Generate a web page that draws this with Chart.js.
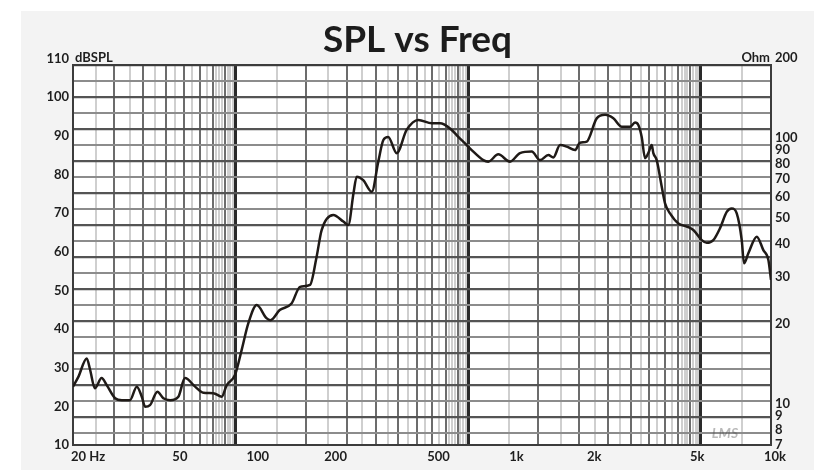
<!DOCTYPE html>
<html>
<head>
<meta charset="utf-8">
<script src="https://cdn.jsdelivr.net/npm/chart.js@4.4.1/dist/chart.umd.min.js"></script>
<style>
  html, body { margin: 0; padding: 0; background: #fff; }
  #card { position: absolute; left: 21px; top: 11px; width: 793px; height: 459px; background: #f3f3f3; }
</style>
</head>
<body>
<div id="card"><canvas id="splChart" width="793" height="459"></canvas></div>
<script>
// SPL curve (Hz, dB)
const freqs = [20, 21, 22.6, 23.3, 24.3, 25.8, 27, 29.1, 30.9, 33.2,
  35.3, 36.9, 38, 39.7, 42.4, 44.7, 47.5, 51.1, 54.2, 59.3,
  63.8, 69.8, 75.2, 78.6, 84.6, 89.8, 95.3, 102.7, 112, 116,
  126, 140, 151, 165, 175, 183, 203, 222, 232, 243,
  250, 265, 286, 303, 317, 331, 357, 390, 433, 488,
  525, 574, 618, 656, 696, 772, 807, 882, 979, 1070,
  1188, 1279, 1377, 1440, 1529, 1622, 1747, 1826, 1939, 2119,
  2282, 2457, 2648, 2850, 2980, 3069, 3163, 3258, 3354, 3458,
  3508, 3615, 3780, 3893, 4070, 4382, 4723, 5008, 5397, 5642,
  5985, 6353, 6742, 7050, 7371, 7706, 7865, 8174, 8810, 9342,
  9766, 10000];
const spl = [25.1, 27.7, 32.4, 29.4, 24.7, 27.3, 25.5, 22.1, 21.6, 21.6,
  25.1, 22.5, 19.9, 20.3, 23.8, 22.1, 21.6, 22.5, 27.3, 25.1,
  23.5, 23.4, 22.5, 25.5, 28.1, 34.6, 41.5, 46.2, 42.8, 42.3,
  44.9, 46.6, 50.9, 51.4, 58.7, 65.6, 69.5, 67.8, 66.9, 75.1,
  79.4, 78.5, 75.5, 83.3, 88.9, 89.7, 85.5, 91.5, 94.1, 93.2,
  93.2, 91.9, 89.7, 88.0, 86.3, 83.7, 83.3, 85.2, 83.3, 85.5,
  85.9, 83.7, 85.0, 84.4, 87.6, 87.2, 86.3, 88.2, 88.5, 94.5,
  95.4, 94.5, 92.3, 92.3, 93.4, 92.8, 89.7, 84.2, 85.5, 87.6,
  85.5, 83.7, 76.8, 72.5, 69.9, 67.3, 66.5, 65.6, 63.0, 62.3,
  63.0, 66.1, 70.3, 71.2, 69.9, 63.0, 57.0, 59.6, 63.9, 60.4,
  57.9, 52.7];

const freqTicks = [20, 50, 100, 200, 500, 1000, 2000, 5000, 10000];
const freqLabels = ['20 Hz', '50', '100', '200', '500', '1k', '2k', '5k', '10k'];
const dbTicks = [10, 20, 30, 40, 50, 60, 70, 80, 90, 100, 110];
const ohmTicks = [7, 8, 9, 10, 20, 30, 40, 50, 60, 70, 80, 90, 100, 200];

// the printed paper grid underneath: 3 log decades, lines every half step
const paperSteps = [1, 1.5, 2, 2.5, 3, 3.5, 4, 4.5, 5, 5.5, 6, 6.5, 7, 7.5, 8, 8.25, 8.5, 8.75, 9, 9.25, 9.5, 9.75];
const paperDecades = [10, 100, 1000, 10000];
const paperRows = 23.75;

const paperFreqs = [];
paperDecades.forEach(d => paperSteps.forEach(s => {
  const v = d * s;
  if (v >= 20 && v <= 20000) paperFreqs.push(v);
}));

function mantissa(v) {
  return v / Math.pow(10, Math.floor(Math.log10(v) + 1e-9));
}

Chart.defaults.font.family = 'Lato';

const paper = {
  id: 'paper',
  beforeDraw(chart) {
    const {ctx, chartArea: a} = chart;
    ctx.save();
    ctx.fillStyle = '#fff';
    ctx.fillRect(a.left, a.top, a.right - a.left, a.bottom - a.top);
    ctx.restore();
  },
  beforeDatasetsDraw(chart) {
    const {ctx, chartArea: a} = chart;
    ctx.save();
    ctx.strokeStyle = '#3c3c3c';
    ctx.lineWidth = 2;
    ctx.strokeRect(a.left, a.top, a.right - a.left, a.bottom - a.top);
    ctx.font = 'italic bold 14px Lato';
    ctx.fillStyle = 'rgba(80,80,80,0.4)';
    ctx.textAlign = 'center';
    ctx.textBaseline = 'middle';
    ctx.fillText('LMS', a.right - 46, a.bottom - 12);
    ctx.restore();
  },
  afterDraw(chart) {
    const {ctx, chartArea: a} = chart;
    ctx.save();
    ctx.font = 'bold 13px Lato';
    ctx.fillStyle = '#1e1e1e';
    ctx.textBaseline = 'alphabetic';
    ctx.textAlign = 'left';
    ctx.fillText('dBSPL', a.left + 2, a.top - 3);
    ctx.textAlign = 'right';
    ctx.fillText('Ohm', a.right - 1, a.top - 3);
    ctx.textAlign = 'left';
    ctx.textBaseline = 'middle';
    ctx.fillText(freqLabels[0], a.left - 2, a.bottom + 4 + 7.8);
    ctx.restore();
  }
};

new Chart(document.getElementById('splChart'), {
  type: 'line',
  data: {
    datasets: [{
      label: 'SPL',
      data: freqs.map((f, i) => ({ x: f, y: spl[i] })),
      borderColor: '#1f1a17',
      borderWidth: 2.5,
      pointRadius: 0,
      cubicInterpolationMode: 'monotone',
      xAxisID: 'x',
      yAxisID: 'y'
    }]
  },
  options: {
    responsive: false,
    animation: false,
    devicePixelRatio: 1,
    layout: { padding: 0 },
    plugins: {
      legend: { display: false },
      tooltip: { enabled: false },
      title: {
        display: true,
        text: 'SPL vs Freq',
        color: '#1c1c1c',
        font: { size: 37, weight: 'bold' },
        padding: { top: 7, bottom: 2.6 }
      }
    },
    scales: {
      xPaper: {
        type: 'logarithmic',
        position: 'bottom',
        min: 20,
        max: 20000,
        afterBuildTicks: s => { s.ticks = paperFreqs.map(v => ({ value: v })); },
        afterFit: s => { s.height = 0; },
        ticks: { display: false },
        border: { display: false },
        grid: {
          drawTicks: false,
          color: c => {
            const m = mantissa(c.tick.value);
            if (Math.abs(m - 1) < 1e-6) return '#2a2a2a';
            if (Math.abs(m - Math.round(m)) < 1e-6) return '#6c6c6c';
            return '#cfcfcf';
          },
          lineWidth: c => {
            const m = mantissa(c.tick.value);
            if (Math.abs(m - 1) < 1e-6) return 3;
            if (Math.abs(m - Math.round(m)) < 1e-6) return 2;
            return 2;
          }
        }
      },
      yPaper: {
        type: 'linear',
        position: 'left',
        reverse: true,
        min: 0,
        max: paperRows,
        afterBuildTicks: s => {
          const t = [];
          for (let k = 0; k <= paperRows; k++) t.push({ value: k });
          s.ticks = t;
        },
        afterFit: s => { s.width = 0; },
        ticks: { display: false },
        border: { display: false },
        grid: {
          drawTicks: false,
          color: c => (c.tick.value % 2 === 0 ? '#545454' : '#8c8c8c'),
          lineWidth: c => (c.tick.value % 2 === 0 ? 2.2 : 2)
        }
      },
      x: {
        type: 'logarithmic',
        position: 'bottom',
        min: 20,
        max: 10000,
        afterBuildTicks: s => { s.ticks = freqTicks.map(v => ({ value: v })); },
        afterFit: s => { s.height = 25; },
        grid: { display: false, drawTicks: false },
        border: { display: false },
        ticks: {
          autoSkip: false,
          maxRotation: 0,
          padding: 4,
          labelOffset: 4,
          color: '#1e1e1e',
          font: { size: 13, weight: 'bold' },
          callback: (v, i) => (i === 0 ? '' : freqLabels[i])
        }
      },
      y: {
        type: 'linear',
        position: 'left',
        min: 10,
        max: 108.3,
        afterBuildTicks: s => { s.ticks = dbTicks.map(v => ({ value: v })); },
        afterFit: s => { s.width = 52; },
        grid: { display: false, drawTicks: false },
        border: { display: false },
        ticks: {
          autoSkip: false,
          padding: 4,
          color: '#1e1e1e',
          font: { size: 13, weight: 'bold' },
          callback: v => String(v)
        }
      },
      y2: {
        type: 'logarithmic',
        position: 'right',
        min: 7,
        max: 188.2,
        afterBuildTicks: s => { s.ticks = ohmTicks.map(v => ({ value: v })); },
        afterFit: s => { s.width = 43; },
        grid: { display: false, drawTicks: false },
        border: { display: false },
        ticks: {
          autoSkip: false,
          padding: 4,
          color: '#1e1e1e',
          font: { size: 13, weight: 'bold' },
          callback: v => String(v)
        }
      }
    }
  },
  plugins: [paper]
});
</script>
</body>
</html>
